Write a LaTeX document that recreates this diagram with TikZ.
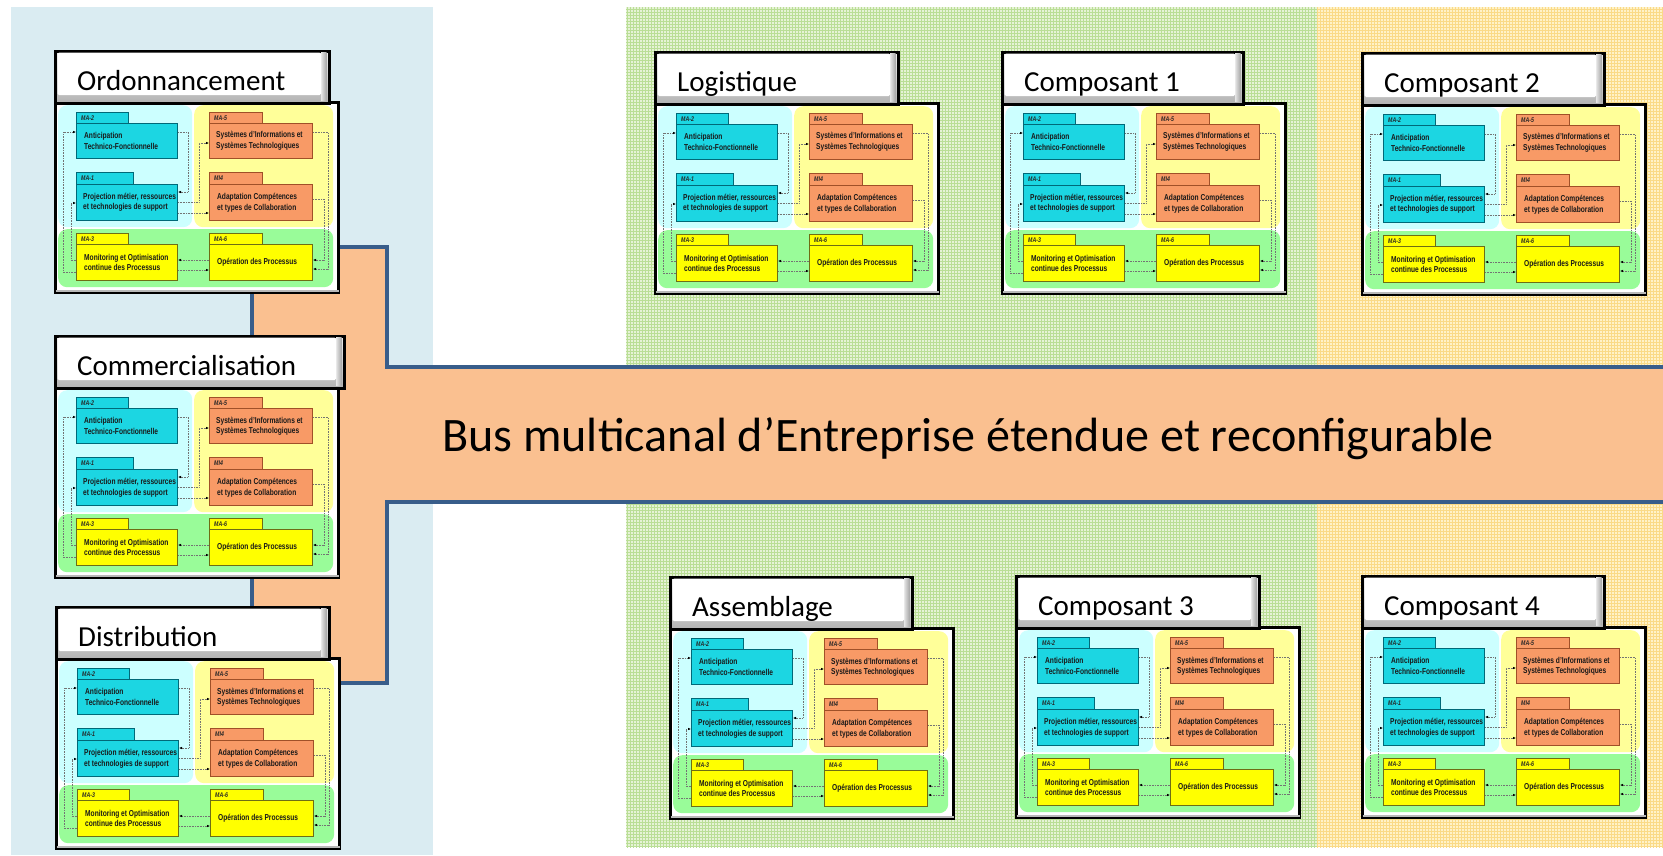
\documentclass[tikz,border=0pt]{standalone}
\usepackage{fontspec}
\setmainfont{Carlito}
\newfontfamily\boxfont[FakeStretch=0.77]{Liberation Sans}
\usetikzlibrary{arrows.meta,patterns}
\definecolor{panelblue}{RGB}{218,236,242}
\definecolor{busfill}{RGB}{250,192,144}
\definecolor{busline}{RGB}{56,93,138}
\definecolor{greenbase}{RGB}{230,243,214}
\definecolor{greengrid}{RGB}{186,222,150}
\definecolor{orangebase}{RGB}{255,242,200}
\definecolor{orangegrid}{RGB}{250,218,135}
\definecolor{regcyan}{RGB}{204,255,255}
\definecolor{regyellow}{RGB}{255,255,153}
\definecolor{reggreen}{RGB}{153,252,153}
\definecolor{boxcyan}{RGB}{28,214,226}
\definecolor{boxcyanline}{RGB}{0,105,120}
\definecolor{boxorange}{RGB}{248,154,102}
\definecolor{boxorangeline}{RGB}{160,80,40}
\definecolor{boxyellow}{RGB}{255,255,0}
\definecolor{boxyellowline}{RGB}{110,110,20}
\tikzset{
  modbody/.style={draw=black, line width=3pt, fill=white, minimum width=283pt, minimum height=190pt, anchor=north west, inner sep=0pt},
  modtab/.style={draw=black, line width=3pt, top color=gray!15, bottom color=gray!60, minimum height=52pt, anchor=north west, inner sep=0pt},
  modtitle/.style={anchor=base west, inner sep=0pt, font=\fontsize{29}{32}\selectfont},
  region/.style={fill=#1, rounded corners=9pt, anchor=north west, inner sep=0pt},
  pkgtab/.style={fill=#1, draw=#1line, line width=0.9pt, minimum height=11pt, anchor=north west, inner sep=0pt},
  pkgmain/.style={fill=#1, draw=#1line, line width=1pt, anchor=north west, inner sep=0pt},
  boxtext/.style={anchor=west, align=left, inner sep=0pt, text=black!90, font=\boxfont\bfseries\fontsize{8.6}{10.5}\selectfont},
  tablabel/.style={anchor=west, inner sep=0pt, text=black!85, font=\boxfont\bfseries\itshape\fontsize{6.8}{7}\selectfont},
  conn/.style={densely dotted, draw=black!55, line width=0.6pt, -{Latex[length=3pt,width=2.6pt,color=black]}},
  pics/modpic/.style n args={2}{code={
    \node[modbody] (-body) at (0,51) {};
    \draw[gray!55, line width=2pt] ([shift={(1.5pt,3pt)}]-body.south west) -- ([shift={(-1.5pt,3pt)}]-body.south east);
    \node[modtab, minimum width=#2pt] (-tab) at (0,0) {};
    \shade[left color=gray!20, right color=gray!70] (#2-7,2) rectangle (#2-1.5,50.5);
    \fill[white, rounded corners=1.5pt] (3.5,2.5) rectangle (#2-7,45);
    \node[modtitle] (-title) at (23,40) {#1};
    \node[region=regcyan, minimum width=134pt, minimum height=122pt] (-rc) at (4,55) {};
    \node[region=regyellow, minimum width=139pt, minimum height=122pt] (-ry) at (140,55) {};
    \node[region=reggreen, minimum width=275pt, minimum height=58pt] (-rg) at (4,179) {};
    % MA-2
    \node[pkgtab=boxcyan, minimum width=52pt] (-ma2t) at (22,62) {};
    \node[tablabel] (-ma2l) at ([xshift=5pt]-ma2t.west) {MA-2};
    \node[pkgmain=boxcyan, minimum width=101pt, minimum height=35pt] (-ma2) at (22,73) {};
    \node[boxtext] (-ma2x) at ([xshift=8pt]-ma2.west) {Anticipation\\Technico-Fonctionnelle};
    % MA-1
    \node[pkgtab=boxcyan, minimum width=57pt, minimum height=12pt] (-ma1t) at (22,122) {};
    \node[tablabel] (-ma1l) at ([xshift=5pt]-ma1t.west) {MA-1};
    \node[pkgmain=boxcyan, minimum width=101pt, minimum height=36pt] (-ma1) at (22,134) {};
    \node[boxtext] (-ma1x) at ([xshift=7pt]-ma1.west) {Projection métier, ressources\\et technologies de support};
    % MA-5
    \node[pkgtab=boxorange, minimum width=53pt] (-ma5t) at (155,62) {};
    \node[tablabel] (-ma5l) at ([xshift=5pt]-ma5t.west) {MA-5};
    \node[pkgmain=boxorange, minimum width=103pt, minimum height=35pt] (-ma5) at (155,73) {};
    \node[boxtext] (-ma5x) at ([xshift=7pt]-ma5.west) {Systèmes d’Informations et\\Systèmes Technologiques};
    % MI4
    \node[pkgtab=boxorange, minimum width=53pt, minimum height=12pt] (-mi4t) at (155,122) {};
    \node[tablabel] (-mi4l) at ([xshift=5pt]-mi4t.west) {MI4};
    \node[pkgmain=boxorange, minimum width=103pt, minimum height=36pt] (-mi4) at (155,134) {};
    \node[boxtext] (-mi4x) at ([xshift=8pt]-mi4.west) {Adaptation Compétences\\et types de Collaboration};
    % MA-3
    \node[pkgtab=boxyellow, minimum width=52pt] (-ma3t) at (22,183) {};
    \node[tablabel] (-ma3l) at ([xshift=5pt]-ma3t.west) {MA-3};
    \node[pkgmain=boxyellow, minimum width=101pt, minimum height=36pt] (-ma3) at (22,194) {};
    \node[boxtext] (-ma3x) at ([xshift=8pt]-ma3.west) {Monitoring et Optimisation\\continue des Processus};
    % MA-6
    \node[pkgtab=boxyellow, minimum width=53pt] (-ma6t) at (155,183) {};
    \node[tablabel] (-ma6l) at ([xshift=5pt]-ma6t.west) {MA-6};
    \node[pkgmain=boxyellow, minimum width=103pt, minimum height=36pt] (-ma6) at (155,194) {};
    \node[boxtext] (-ma6x) at ([xshift=8pt]-ma6.west) {Opération des Processus};
    % connectors
    \draw[conn] ([yshift=-9pt]-ma2.north east) -- ++(10,0) |- ([yshift=-8pt]-ma1.north east);
    \draw[conn] ([yshift=-18pt]-ma1.north east) -- ++(21,0) |- ([yshift=-20pt]-ma5.north west);
    \draw[conn] ([yshift=-29pt]-ma1.north east) -- ([yshift=-29pt]-mi4.north west);
    \draw[conn] ([yshift=-9pt]-ma5.north east) -- ++(15,0) |- ([yshift=-25pt]-ma6.north east);
    \draw[conn] ([yshift=-15pt]-mi4.north east) -- ++(11,0) |- ([yshift=-16pt]-ma6.north east);
    \draw[conn] ([yshift=-16pt]-ma6.north west) -- ([yshift=-16pt]-ma3.north east);
    \draw[conn] ([yshift=-26pt]-ma3.north east) -- ([yshift=-26pt]-ma6.north west);
    \draw[conn] ([yshift=-16pt]-ma3.north west) -- ++(-5,0) |- ([yshift=-19pt]-ma1.north west);
    \draw[conn] ([yshift=-28pt]-ma3.north west) -- ++(-13,0) |- ([yshift=-9pt]-ma2.north west);
  }}
}
\begin{document}
\begin{tikzpicture}[x=1pt, y=-1pt]
\useasboundingbox (0,0) rectangle (1663,855);
\fill[white] (0,0) rectangle (1663,855);
% background panels
\fill[panelblue] (11,7) rectangle (433,855);
\fill[greenbase] (626,7) rectangle (1317,847);
\fill[pattern=grid, pattern color=greengrid] (626,7) rectangle (1317,847);
\fill[orangebase] (1317,7) rectangle (1663,847);
\fill[pattern=grid, pattern color=orangegrid] (1317,7) rectangle (1663,847);
% bus
\draw[busline, line width=4pt, fill=busfill, line join=miter]
  (252,247) -- (387,247) -- (387,367) -- (1690,367) -- (1690,502) -- (387,502) -- (387,683) -- (252,683) -- cycle;
% modules
\pic (ord) at (54,50) {modpic={Ordonnancement}{274}};
\pic (com) at (54,335) {modpic={Commercialisation}{289}};
\pic (dis) at (55,606) {modpic={Distribution}{273}};
\pic (log) at (654,51) {modpic={Logistique}{243}};
\pic (cpa) at (1001,51) {modpic={Composant 1}{241}};
\pic (cpb) at (1361,52) {modpic={Composant 2}{242}};
\pic (ass) at (669,576) {modpic={Assemblage}{242}};
\pic (cpc) at (1015,575) {modpic={Composant 3}{243}};
\pic (cpd) at (1361,575) {modpic={Composant 4}{242}};
% bus label
\node[anchor=base west, inner sep=0pt, font=\fontsize{48.1}{50}\selectfont] (bus) at (442,451) {Bus multicanal d’Entreprise étendue et reconfigurable};
\end{tikzpicture}
\end{document}
